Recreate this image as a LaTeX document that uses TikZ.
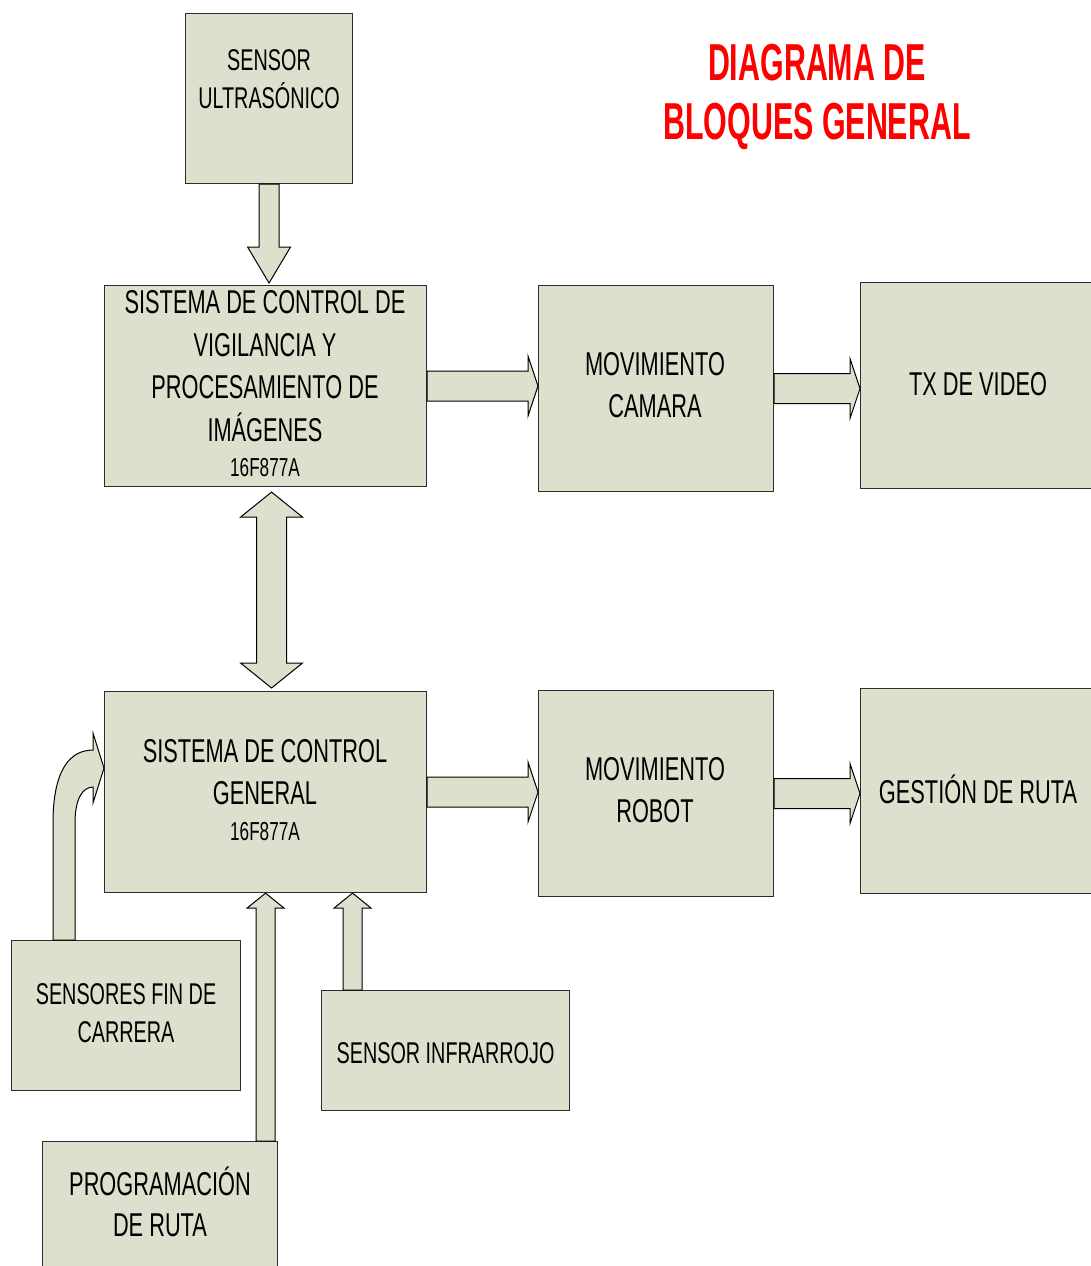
\documentclass[tikz,border=0pt]{standalone}
\usepackage{fontspec}
\setmainfont{Liberation Sans}[FakeStretch=0.66]
\newfontfamily\titlefont{Liberation Sans}[FakeStretch=0.585]
\usetikzlibrary{calc}
\definecolor{blockfill}{RGB}{221,224,204}
\definecolor{edge}{RGB}{45,45,45}
\begin{document}
\begin{tikzpicture}[x=1pt,y=-1pt,
  box/.style={draw=edge,line width=1.1pt,fill=blockfill,anchor=north west,
    inner sep=0pt,align=center,font=\fontsize{33}{42.5}\selectfont},
  blk/.style={draw=black,line width=1pt,fill=blockfill,line join=miter},
  small/.style={font=\fontsize{30}{38}\selectfont,align=center},
  chip/.style={font=\fontsize{26}{30}\selectfont}]
\useasboundingbox (0,0) rectangle (1090,1266);

% title
\node[text=red,font=\titlefont\bfseries\fontsize{52}{59}\selectfont,align=center]
  (title) at (817,97) {DIAGRAMA DE\\BLOQUES GENERAL};

% upper row
\node[box,minimum width=167,minimum height=170] (ultra) at (185,13) {};
\node[small] (ultratext) at ($(ultra.center)+(0,-19)$) {SENSOR\\ULTRAS\'ONICO};

\node[box,minimum width=322,minimum height=201] (scv) at (104,285) {};
\node[align=center,font=\fontsize{33}{42.5}\selectfont] (scvtext) at (265,366)
  {SISTEMA DE CONTROL DE\\VIGILANCIA Y\\PROCESAMIENTO DE\\IM\'AGENES};
\node[chip] (scvchip) at (265,468) {16F877A};

\node[box,minimum width=235,minimum height=206] (cam) at (538,285) {};
\node[align=center,font=\fontsize{33}{42.5}\selectfont] (camtext) at (655,385)
  {MOVIMIENTO\\CAMARA};
\node[box,minimum width=240,minimum height=206] (tx) at (860,282) {};
\node[font=\fontsize{33}{42.5}\selectfont] (txtext) at (978,384) {TX DE VIDEO};

% lower row
\node[box,minimum width=322,minimum height=201] (scg) at (104,691) {};
\node[align=center,font=\fontsize{33}{42.5}\selectfont] (scgtext) at (265,772)
  {SISTEMA DE CONTROL\\GENERAL};
\node[chip] (scgchip) at (265,832) {16F877A};

\node[box,minimum width=235,minimum height=206] (robot) at (538,690) {};
\node[align=center,font=\fontsize{33}{42.5}\selectfont] (robottext) at (655,790)
  {MOVIMIENTO\\ROBOT};
\node[box,minimum width=240,minimum height=205] (ruta) at (860,688) {};
\node[font=\fontsize{33}{42.5}\selectfont] (rutatext) at (978,789) {GESTI\'ON DE RUTA};

% inputs of the general controller
\node[box,minimum width=229,minimum height=150] (fin) at (11,940) {};
\node[small] (fintext) at ($(fin.center)+(0,-2)$) {SENSORES FIN DE\\CARRERA};
\node[box,minimum width=248,minimum height=120] (ir) at (321,990) {};
\node[small] (irtext) at ($(ir.center)+(0,3)$) {SENSOR INFRARROJO};
\node[box,minimum width=235,minimum height=140] (prog) at (42,1141) {};
\node[align=center,font=\fontsize{33}{41}\selectfont] (progtext) at (160,1202)
  {PROGRAMACI\'ON\\DE RUTA};

% block arrow: ultrasonic sensor -> surveillance controller
\path[blk] let \p1=(ultra.south), \p2=(scv.north) in
  (\x1-10,\y1) -- (\x1-10,\y2+38) -- (\x1-21.5,\y2+38) -- (\x1,\y2+2)
  -- (\x1+21.5,\y2+38) -- (\x1+10,\y2+38) -- (\x1+10,\y1) -- cycle;

% double block arrow between both controllers
\path[blk] let \p1=($(scv.south)+(6,0)$), \p2=(scg.north) in
  (\x1,\y1-5) -- (\x1+31,\y1-30) -- (\x1+15,\y1-30) -- (\x1+15,\y2+28)
  -- (\x1+31,\y2+28) -- (\x1,\y2+3) -- (\x1-31,\y2+28) -- (\x1-15,\y2+28)
  -- (\x1-15,\y1-30) -- (\x1-31,\y1-30) -- cycle;

% right-pointing block arrows
\foreach \a/\b in {scv/cam, cam/tx, scg/robot, robot/ruta}{
  \path[blk] let \p1=(\a.east), \p2=(\b.west) in
    (\x1,\y1+15) -- (\x2-10,\y1+15) -- (\x2-10,\y1+30) -- (\x2,\y1)
    -- (\x2-10,\y1-30) -- (\x2-10,\y1-15) -- (\x1,\y1-15) -- cycle;
}

% curved block arrow: limit switches -> general controller
\path[blk] let \p1=(fin.north west), \p2=(scg.west), \n1={\y2+24} in
  (\x1+42,\y1) -- (\x1+42,\n1-55)
  .. controls (\x1+42,\n1) and (\x1+60,\n1+18) .. (\x2-11,\n1+18)
  -- (\x2-11,\n1+35) -- (\x2,\n1) -- (\x2-11,\n1-35) -- (\x2-11,\n1-19)
  .. controls (\x1+72,\n1-19) and (\x1+64,\n1-30) .. (\x1+64,\n1-55)
  -- (\x1+64,\y1) -- cycle;

% upward block arrows into the general controller
\path[blk] let \p1=(scg.south), \p2=(prog.north) in
  (\x1-9.5,\y2) -- (\x1-9.5,\y1-15) -- (\x1-18.5,\y1-15) -- (\x1,\y1)
  -- (\x1+18.5,\y1-15) -- (\x1+9.5,\y1-15) -- (\x1+9.5,\y2) -- cycle;
\path[blk] let \p1=($(scg.south)+(87,0)$), \p2=(ir.north) in
  (\x1-9.5,\y2) -- (\x1-9.5,\y1-15) -- (\x1-18.5,\y1-15) -- (\x1,\y1)
  -- (\x1+18.5,\y1-15) -- (\x1+9.5,\y1-15) -- (\x1+9.5,\y2) -- cycle;
\end{tikzpicture}
\end{document}
